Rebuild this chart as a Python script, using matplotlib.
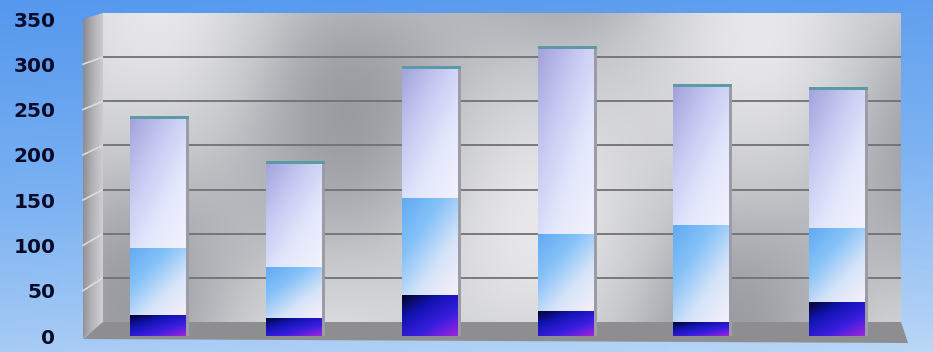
import numpy as np
import matplotlib.pyplot as plt
from matplotlib.patches import Polygon
from matplotlib.colors import LinearSegmentedColormap

# data
categories = ['1', '2', '3', '4', '5', '6']
bottom_vals = [23, 20, 45, 28, 15, 38]
middle_vals = [74, 56, 107, 85, 108, 81]
top_vals = [144, 115, 144, 205, 153, 154]
y_ticks = [0, 50, 100, 150, 200, 250, 300, 350]

W, H = 933, 352
fig = plt.figure(figsize=(W / 100, H / 100), dpi=100)


def px_axes(x0, y0, x1, y1, z):
    # pixel box measured from the top left corner
    a = fig.add_axes([x0 / W, (H - y1) / H, (x1 - x0) / W, (y1 - y0) / H])
    a.set_zorder(z)
    return a


def gradient(stops, wx=0.45, wy=0.55, h=90, w=60):
    X, Y = np.meshgrid(np.linspace(0, 1, w), np.linspace(0, 1, h))
    t = (wx * X + wy * Y) / (wx + wy)
    return LinearSegmentedColormap.from_list('g', stops)(t)


# ---- backdrop: blue gradient, side wall, floor
bg = px_axes(0, 0, W, H, 0)
bg.set_xlim(0, W)
bg.set_ylim(H, 0)
bg.axis('off')
bg.imshow(gradient(['#5598ee', '#7cb2f2', '#b9d6f6'], wx=0.15, wy=0.85),
          extent=(0, W, H, 0), aspect='auto', zorder=0)

side = Polygon([(83, 19), (103, 13), (103, 322), (83, 338)], closed=True,
               facecolor='none', edgecolor='none')
bg.add_patch(side)
im = bg.imshow(gradient(['#88888e', '#b4b4b8', '#d2d2d6'], wx=1, wy=0.15),
               extent=(83, 103, 338, 13), aspect='auto', zorder=1)
im.set_clip_path(side)
for v in y_ticks[1:-1]:
    bg.plot([83, 103], [336 - v * 0.906, 322 - v * 0.883],
            color='#dcdce0', lw=1.2, zorder=2)

floor = Polygon([(103, 322), (901, 322), (908, 343), (83, 339)], closed=True,
                facecolor='#8e8e90', edgecolor='none', zorder=2)
bg.add_patch(floor)

# ---- back wall with gridlines
wall = px_axes(103, 13, 901, 322, 1)
wx_, wy_ = np.meshgrid(np.linspace(0, 1, 400), np.linspace(0, 1, 160))
shade = (0.82 + 0.08 * np.sin(2 * np.pi * (1.25 * wx_ + 0.55 * wy_) + 1.2)
         + 0.035 * np.sin(2 * np.pi * (2.7 * wx_ - 0.4 * wy_) + 0.3))
wall_cmap = LinearSegmentedColormap.from_list('w', ['#929399', '#c6c7cb', '#ececee'])
wall.imshow(shade, cmap=wall_cmap, vmin=0.68, vmax=0.95, extent=(0, 1, 0, 350),
            aspect='auto', zorder=0)
wall.set_xlim(0, 1)
wall.set_ylim(0, 350)
wall.set_yticks(y_ticks[1:-1])
wall.set_xticks([])
wall.grid(axis='y', color='#707075', lw=1.3)
wall.tick_params(length=0, labelleft=False)
for s in wall.spines.values():
    s.set_visible(False)

# ---- bars
ax = px_axes(90, 19, 905, 336, 3)
ax.set_facecolor('none')
ax.set_xlim(-0.5, 5.5)
ax.set_ylim(0, 350)
x = np.arange(len(categories))
bw = 0.41

seg_styles = [
    ['#03032a', '#1214b4', '#3a1ee0', '#a024dc'],
    ['#60aaf4', '#86c2f8', '#d6e4f8', '#f6f0fa'],
    ['#a2a2dc', '#c6caf2', '#e4e8fc', '#f2f2fc'],
]
bottoms = np.zeros(len(categories))
for vals, stops in zip([bottom_vals, middle_vals, top_vals], seg_styles):
    bars = ax.bar(x, vals, bottom=bottoms, width=bw, color='none', edgecolor='none')
    img = gradient(stops)
    for b in bars:
        gi = ax.imshow(img, extent=(b.get_x(), b.get_x() + b.get_width(),
                                    b.get_y(), b.get_y() + b.get_height()),
                       aspect='auto', zorder=2)
        gi.set_clip_path(b)
    bottoms = bottoms + np.array(vals)

# thin side face and teal cap
ax.bar(x + bw / 2 + 0.012, bottoms, width=0.024, color='#9c9ca6', zorder=1)
ax.bar(x + 0.012, 3.5, bottom=bottoms - 1.5, width=bw + 0.024, color='#5c9aa6', zorder=3)

ax.set_xticks([])
ax.set_yticks(y_ticks)
ax.set_yticklabels([str(v) for v in y_ticks], fontsize=14.5, fontweight='bold',
                   color='#0a0a28', family='DejaVu Sans')
ax.tick_params(length=0, pad=25)
for s in ax.spines.values():
    s.set_visible(False)

fig.savefig('out.png', dpi=100)
